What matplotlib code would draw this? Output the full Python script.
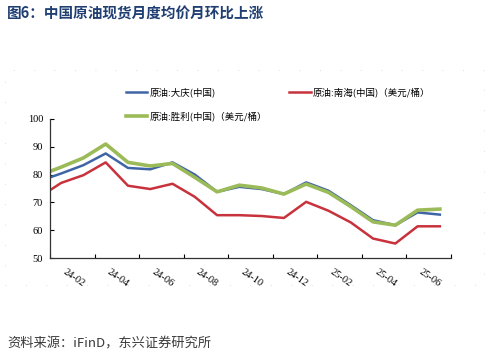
import matplotlib
matplotlib.use("Agg")
import matplotlib.pyplot as plt
from matplotlib.patches import Rectangle

plt.rcParams['font.family'] = ['Noto Sans CJK SC', 'DejaVu Sans']

# months 24-01 .. 25-07 (24-01 falls just left of the axis and is clipped)
months = ["24-01", "24-02", "24-03", "24-04", "24-05", "24-06", "24-07", "24-08",
          "24-09", "24-10", "24-11", "24-12", "25-01", "25-02", "25-03", "25-04",
          "25-05", "25-06", "25-07"]
daqing = [77.6, 80.4, 83.4, 87.6, 82.4, 81.9, 84.4, 80.0, 73.8, 75.6, 74.8,
          73.0, 77.2, 74.2, 69.0, 63.6, 61.8, 66.4, 65.6]
nanhai = [71.8, 77.0, 79.8, 84.4, 76.0, 74.8, 76.7, 72.0, 65.4, 65.4, 65.1,
          64.4, 70.2, 67.0, 62.8, 57.0, 55.2, 61.4, 61.4]
shengli = [79.6, 82.7, 86.0, 91.0, 84.4, 83.1, 84.0, 79.0, 73.8, 76.2, 75.2,
           73.0, 76.6, 73.6, 68.5, 63.0, 61.8, 67.2, 67.6]
tick_labels = ["24-02", "24-04", "24-06", "24-08", "24-10", "24-12", "25-02", "25-04", "25-06"]
yticks = [50, 60, 70, 80, 90, 100]

x = [i - 1 for i in range(len(months))]

fig = plt.figure(figsize=(4.91, 3.57), dpi=100)
ax = fig.add_axes([50 / 491, 99 / 357, 401 / 491, 139 / 357])

l1, = ax.plot(x, daqing, color="#3F65A6", lw=1.8, label="原油:大庆(中国)")
l2, = ax.plot(x, nanhai, color="#C8323C", lw=1.8, label="原油:南海(中国)（美元/桶）")
l3, = ax.plot(x, shengli, color="#9BBB59", lw=2.6, label="原油:胜利(中国)（美元/桶）")

ax.set_xlim(-0.5, 17.5)
ax.set_ylim(50, 100)
ax.set_yticks(yticks)
ax.set_yticklabels([str(v) for v in yticks], family="Liberation Serif", fontsize=7.5)
ax.tick_params(axis="y", direction="in", length=3, width=0.8, pad=5)

ax.set_xticks([2 * i - 0.5 for i in range(10)], minor=True)
ax.set_xticks([2 * i for i in range(9)])
ax.set_xticklabels(tick_labels, family="Liberation Serif", fontsize=7.5,
                   rotation=-35, ha="left", va="top")
ax.tick_params(axis="x", which="major", length=0, pad=7)
ax.tick_params(axis="x", which="minor", direction="in", length=3, width=0.8)

for s in ["top", "right"]:
    ax.spines[s].set_visible(False)
for s in ["left", "bottom"]:
    ax.spines[s].set_color("#333333")
    ax.spines[s].set_linewidth(0.9)

fig.legend(handles=[l1, l3, l2], ncol=2, loc="upper left",
           bbox_to_anchor=(118 / 491, 1 - 80 / 357), frameon=False,
           fontsize=6.8, handlelength=2.3, handletextpad=0.2,
           columnspacing=2.4, labelspacing=1.45, borderpad=0.3)

fig.text(7 / 491, 1 - 14 / 357, "图6：中国原油现货月度均价月环比上涨",
         fontsize=10.5, fontweight="bold", color="#1F3F73", va="center", ha="left")
fig.text(7 / 491, 1 - 344 / 357, "资料来源：iFinD，东兴证券研究所",
         fontsize=9.5, color="#3a3a3a", va="center", ha="left")

fig.patches.append(Rectangle((5 / 491, 1 - 285 / 357), 479 / 491, 215 / 357,
                             transform=fig.transFigure, fill=False,
                             edgecolor="#dedede", lw=0.7, linestyle=(0, (1, 20))))

fig.savefig("out.png", dpi=100)
